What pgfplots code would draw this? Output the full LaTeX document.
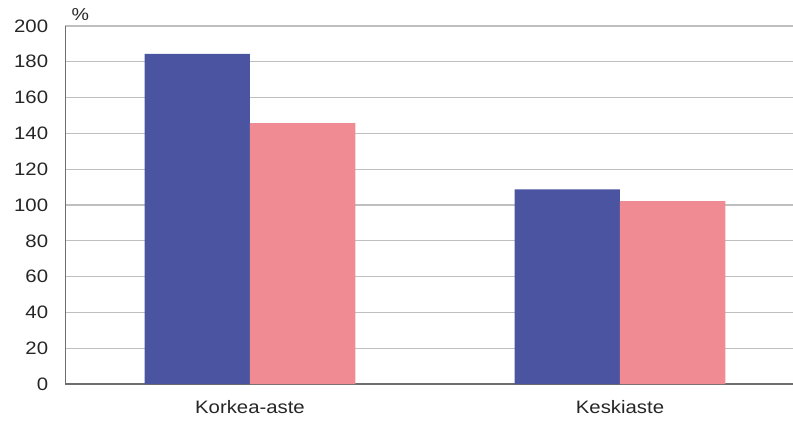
\documentclass[border=0pt]{standalone}
\usepackage{pgfplots}
\pgfplotsset{compat=1.18}
\usepackage{fontspec}
\setmainfont{Liberation Sans}[FakeStretch=1.13]
\definecolor{barBlue}{HTML}{4A54A0}
\definecolor{barPink}{HTML}{F08A93}
\definecolor{gridGray}{HTML}{BFBFBF}
\definecolor{axisGray}{HTML}{6E6E6E}

\begin{document}
\begin{tikzpicture}
\begin{axis}[
    scale only axis,
    width=545.6pt, height=268.5pt,
    xmin=-0.4986, xmax=1.4676,
    ymin=0, ymax=200,
    ytick={0,20,...,200},
    xtick={0,1},
    xticklabels={Korkea-aste, Keskiaste},
    axis x line=bottom, axis y line=left,
    axis line style={draw=axisGray, line width=0.8pt, -},
    ymajorgrids, major grid style={draw=gridGray, line width=0.9pt},
    major tick length=0pt,
    tick label style={font=\fontsize{13.5pt}{16pt}\selectfont, text=black!85},
    /pgf/number format/assume math mode=true,
    yticklabel style={xshift=-9.5pt},
    xticklabel style={yshift=-8.6pt},
    ybar, bar width=0.285,
    clip=false,
]
\addplot[fill=barBlue, draw=none, bar shift=-0.1425] coordinates {(0,184.4) (1,108.8)};
\addplot[fill=barPink, draw=none, bar shift=0.1425] coordinates {(0,145.7) (1,102.2)};
\coordinate (sw) at (rel axis cs:0,0);
\coordinate (ne) at (rel axis cs:1,1);
\node[anchor=south west, inner sep=0pt, font=\fontsize{13pt}{15pt}\selectfont, text=black!85] at ([shift={(4.5pt,3.5pt)}]rel axis cs:0,1) {\%};
\end{axis}
\pgfresetboundingbox
\path[use as bounding box] ([shift={(-49.1pt,-27pt)}]sw) rectangle ([shift={(0pt,19.5pt)}]ne);
\end{tikzpicture}
\end{document}
